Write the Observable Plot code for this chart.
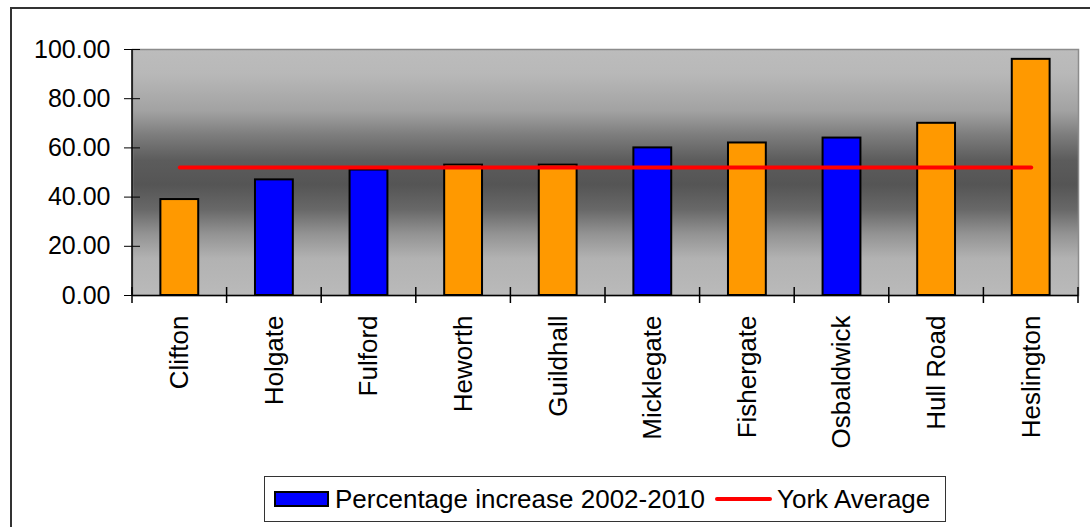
<!DOCTYPE html>
<html>
<head>
<meta charset="utf-8">
<script src="https://cdn.jsdelivr.net/npm/d3@7"></script>
<script src="https://cdn.jsdelivr.net/npm/@observablehq/plot@0.6"></script>
<style>
  html, body { margin: 0; padding: 0; background: #fff; width: 1090px; height: 527px; overflow: hidden; }
  body { position: relative; font-family: "Liberation Sans", Arial, sans-serif; color: #000; }
  #outer { position: absolute; left: 10px; top: 7px; width: 1200px; height: 700px; border: 2px solid #333; box-sizing: border-box; pointer-events: none; }
  #chart svg { display: block; }
  #legend {
    margin: 6px 0 0 264px; width: 682px; height: 46px; box-sizing: border-box;
    border: 1.5px solid #333; display: flex; align-items: center; font-size: 26px;
    padding-left: 9px; white-space: nowrap;
  }
  #legend .swatch { width: 55px; height: 16px; background: #0000ff; border: 2px solid #000; box-sizing: border-box; margin-right: 6px; }
  #legend .rule { width: 57px; height: 4px; background: #ff0000; border-radius: 2px; margin: 0 5px 0 10px; }
</style>
</head>
<body>
<div id="outer"></div>
<div id="chart"></div>
<div id="legend">
  <span class="swatch"></span><span id="seriesName"></span>
  <span class="rule"></span><span id="averageName"></span>
</div>
<script>
// Ward-level percentage increase, 2002-2010
const wards = ["Clifton", "Holgate", "Fulford", "Heworth", "Guildhall", "Micklegate", "Fishergate", "Osbaldwick", "Hull Road", "Heslington"];
const increase = [39, 47, 51, 53, 53, 60, 62, 64, 70, 96];
// wards drawn in the accent colour
const highlighted = [true, false, false, true, true, false, true, false, true, true];
const yorkAverage = 52;
const yTicks = [0, 20, 40, 60, 80, 100];
const seriesName = "Percentage increase 2002-2010";
const averageName = "York Average";

const rows = wards.map((ward, i) => ({ward, value: increase[i], highlighted: highlighted[i]}));

const plot = Plot.plot({
  width: 1090,
  height: 470,
  marginLeft: 132,
  marginRight: 12,
  marginTop: 49,
  marginBottom: 175,
  style: {fontFamily: "'Liberation Sans', Arial, sans-serif", fontSize: "25px", color: "#000", background: "transparent", overflow: "visible"},
  x: {domain: wards, paddingInner: 0.6, paddingOuter: 0.3, round: false, label: null},
  y: {domain: [0, 100], label: null},
  color: {domain: [false, true], range: ["#0000ff", "#ff9900"]},
  marks: [
    Plot.frame({fill: "url(#plotBg)", stroke: "#8c8c8c", strokeWidth: 1.5}),
    Plot.barY(rows, {x: "ward", y: "value", fill: "highlighted", stroke: "#000", strokeWidth: 2}),
    Plot.lineY(wards, {x: d => d, y: () => yorkAverage, stroke: "#ff0000", strokeWidth: 4, strokeLinecap: "round"}),
    Plot.ruleY([0], {stroke: "#000", strokeWidth: 1.5}),
    Plot.axisY({ticks: yTicks, tickFormat: d3.format(".2f"), tickSize: 16, dx: 8, tickPadding: 14, fontSize: 25, stroke: "#000", label: null}),
    Plot.axisX({tickRotate: -90, tickSize: 0, tickPadding: 20, fontSize: 26, label: null})
  ]
});

document.getElementById("chart").appendChild(plot);
document.getElementById("seriesName").textContent = seriesName;
document.getElementById("averageName").textContent = averageName;

// Plot-area background: light at the edges, dark through the middle
const svg = d3.select(plot);
const grad = svg.insert("defs", ":first-child").append("linearGradient")
  .attr("id", "plotBg").attr("x1", 0).attr("y1", 0).attr("x2", 0).attr("y2", 1);
[[0, "#bcbcbc"], [0.1, "#b8b8b8"], [0.25, "#a2a2a2"], [0.35, "#7c7c7c"], [0.45, "#5c5c5c"],
 [0.55, "#555555"], [0.65, "#686868"], [0.75, "#939393"], [0.85, "#b2b2b2"], [1, "#bababa"]]
  .forEach(([o, c]) => grad.append("stop").attr("offset", o).attr("stop-color", c));

// Category separators and the value axis line, placed with the chart's own scales
const sx = plot.scale("x");
const sy = plot.scale("y");
const pos = w => (sx.apply ? sx.apply(w) : d3.scaleBand(sx.domain, sx.range).paddingInner(sx.paddingInner).paddingOuter(sx.paddingOuter)(w));
const gap = (sx.step - sx.bandwidth) / 2;
const bounds = wards.map(w => pos(w) - gap);
bounds.push(pos(wards[wards.length - 1]) + sx.bandwidth + gap);
const yBase = sy.apply ? sy.apply(0) : sy.range[0];
const yTop = sy.apply ? sy.apply(100) : sy.range[1];
const sepLayer = svg.append("g").attr("stroke", "#000").attr("stroke-width", 1.5);
sepLayer.selectAll("line.sep").data(bounds).join("line").attr("class", "sep")
  .attr("x1", d => d).attr("x2", d => d).attr("y1", yBase - 8).attr("y2", yBase + 8);
sepLayer.append("line").attr("x1", sx.range[0]).attr("x2", sx.range[0]).attr("y1", yTop).attr("y2", yBase);
</script>
</body>
</html>
